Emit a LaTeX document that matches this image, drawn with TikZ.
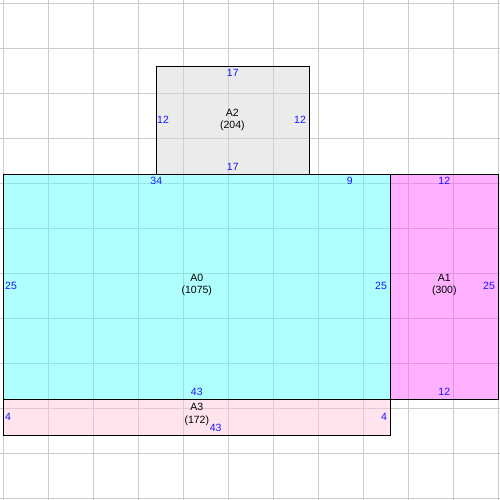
\documentclass[tikz,border=0pt]{standalone}
\usepackage{fontspec}
\setmainfont{Liberation Sans}
\usepackage{tikz}
\usetikzlibrary{positioning}
\definecolor{gridgray}{HTML}{CCCCCC}
\definecolor{zcyan}{RGB}{80,255,255}
\definecolor{zmagenta}{RGB}{255,80,255}
\definecolor{zgray}{RGB}{211,211,211}
\definecolor{zpink}{RGB}{255,195,218}
\definecolor{dimblue}{RGB}{20,20,255}
\tikzset{
  zone/.style = {draw=black, line width=1.2pt, fill opacity=0.45},
  dimlbl/.style = {draw=none, inner sep=0, text=dimblue, font=\fontsize{10.5}{12}\selectfont},
  zonelbl/.style = {draw=none, inner sep=0, align=center, font=\fontsize{10.5}{12.5}\selectfont}
}

\begin{document}
\begin{tikzpicture}[x=9pt, y=-9pt]
\useasboundingbox (-0.367,-0.367) rectangle (55.189,55.189);
% grid
\draw [gridgray, line width=1pt, step=45pt] (-0.367,-0.367) grid (55.189,55.189);
% zones
\draw [zone, fill=zcyan] (0,19) rectangle (43,44);
\draw [zone, fill=zmagenta] (43,19) rectangle (55,44);
\draw [zone, fill=zgray] (17,7) rectangle (34,19);
\draw [zone, fill=zpink] (0,44) rectangle (43,48);
% zone names
\node [zonelbl] (A0) at (21.5, 31.3) {A0\\(1075)};
\node [zonelbl] (A1) at (49, 31.3) {A1\\(300)};
\node [zonelbl] (A2) at (25.45, 12.93) {A2\\(204)};
\node [zonelbl] (A3) at (21.5, 45.7) {A3\\(172)};
% side lengths A2
\node [dimlbl] (A2t) at (25.5, 7.75) {17};
\node [dimlbl] (A2b) at (25.5, 18.15) {17};
\node [dimlbl] (A2l) at (17.75, 13) {12};
\node [dimlbl] (A2r) at (32.97, 13) {12};
% side lengths A0
\node [dimlbl] (A0t) at (17, 19.78) {34};
\node [dimlbl] (A0u) at (38.5, 19.78) {9};
\node [dimlbl] (A0l) at (0.86, 31.45) {25};
\node [dimlbl] (A0r) at (41.97, 31.45) {25};
\node [dimlbl] (A0b) at (21.5, 43.15) {43};
% side lengths A1
\node [dimlbl] (A1t) at (49, 19.78) {12};
\node [dimlbl] (A1r) at (53.97, 31.45) {25};
\node [dimlbl] (A1b) at (49, 43.2) {12};
% side lengths A3
\node [dimlbl] (A3l) at (0.52, 46) {4};
\node [dimlbl] (A3r) at (42.3, 46) {4};
\node [dimlbl] (A3b) at (23.6, 47.2) {43};
\end{tikzpicture}
\end{document}
